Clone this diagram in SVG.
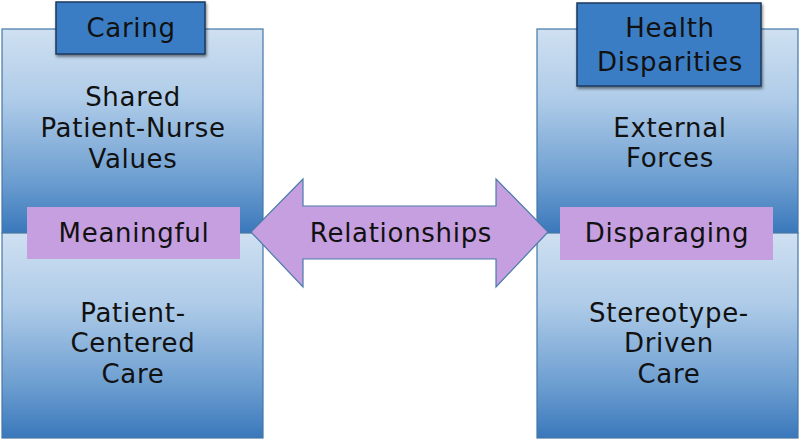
<svg xmlns="http://www.w3.org/2000/svg" width="800" height="440" viewBox="0 0 800 440">
  <defs>
    <linearGradient id="blueGrad" x1="0" y1="0" x2="0" y2="1">
      <stop offset="0" stop-color="#cfe0f1"/>
      <stop offset="0.35" stop-color="#aecbe8"/>
      <stop offset="0.75" stop-color="#6b9dd0"/>
      <stop offset="1" stop-color="#3a78bb"/>
    </linearGradient>
    <filter id="shadow" x="-10%" y="-10%" width="130%" height="140%">
      <feGaussianBlur in="SourceAlpha" stdDeviation="1.5"/>
      <feOffset dx="1" dy="2" result="b"/>
      <feComponentTransfer><feFuncA type="linear" slope="0.5"/></feComponentTransfer>
      <feMerge><feMergeNode/><feMergeNode in="SourceGraphic"/></feMerge>
    </filter>
  </defs>
  <style>
    .panel { fill: url(#blueGrad); stroke: #4577a8; stroke-width: 1.2; }
    .header { fill: #3a7dc4; stroke: #1c3a5e; stroke-width: 1.5; }
    .tag { fill: #c69fe0; }
    .arrow { fill: #c69fe0; stroke: #4a7ca8; stroke-width: 1.2; }
    text { font-family: "DejaVu Sans", "Noto Sans", "Liberation Sans", sans-serif; font-size: 26px; letter-spacing: 0.7px; fill: #111; text-anchor: middle; }
  </style>
  <rect width="800" height="440" fill="#ffffff"/>

  <g id="left-top">
    <rect class="panel" x="2" y="29" width="261" height="204"/>
    <text x="133" y="106">Shared</text>
    <text x="133" y="137">Patient-Nurse</text>
    <text x="133" y="168">Values</text>
  </g>
  <g id="left-bottom">
    <rect class="panel" x="2" y="233" width="261" height="205"/>
    <text x="133" y="322">Patient-</text>
    <text x="133" y="352">Centered</text>
    <text x="133" y="383">Care</text>
  </g>
  <g id="right-top">
    <rect class="panel" x="537" y="29" width="261" height="204"/>
    <text x="670" y="137">External</text>
    <text x="670" y="167">Forces</text>
  </g>
  <g id="right-bottom">
    <rect class="panel" x="537" y="233" width="261" height="205"/>
    <text x="669" y="322">Stereotype-</text>
    <text x="669" y="352">Driven</text>
    <text x="669" y="383">Care</text>
  </g>

  <g id="caring">
    <rect class="header" x="56" y="2" width="149" height="52" filter="url(#shadow)"/>
    <text x="131" y="37">Caring</text>
  </g>
  <g id="health-disparities">
    <rect class="header" x="577" y="3" width="184" height="83" filter="url(#shadow)"/>
    <text x="670" y="37">Health</text>
    <text x="670" y="71">Disparities</text>
  </g>

  <g id="connectors">
    <polygon class="arrow" points="251,232 303,179 303,206 496,206 496,179 548,232 496,287 496,259 303,259 303,287"/>
  </g>

  <g id="relationships">
    <text x="401" y="242">Relationships</text>
  </g>
  <g id="meaningful">
    <rect class="tag" x="27" y="207" width="213" height="52"/>
    <text x="134" y="242">Meaningful</text>
  </g>
  <g id="disparaging">
    <rect class="tag" x="560" y="207" width="213" height="53"/>
    <text x="667" y="242">Disparaging</text>
  </g>
</svg>
